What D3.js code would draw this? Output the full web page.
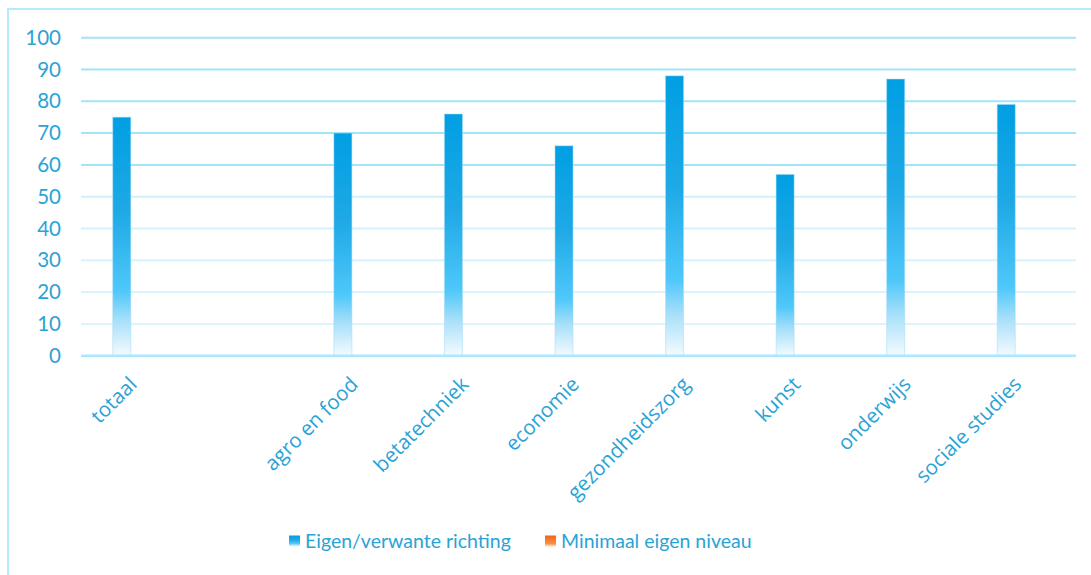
<!DOCTYPE html>
<html>
<head>
<meta charset="utf-8">
<script src="https://cdn.jsdelivr.net/npm/d3@7"></script>
<style>
  html, body { margin: 0; padding: 0; background: #fff; }
  svg { display: block; font-family: Lato, "Open Sans", sans-serif; }
</style>
</head>
<body>
<svg id="chart" width="1091" height="575"></svg>
<script>
const categories = ["totaal", "", "agro en food", "betatechniek", "economie", "gezondheidszorg", "kunst", "onderwijs", "sociale studies"];
const seriesNames = ["Eigen/verwante richting", "Minimaal eigen niveau"];
const eigenVerwant = [75, null, 70, 76, 66, 88, 57, 87, 79];
const minimaalNiveau = [null, null, null, null, null, null, null, null, null];
const yTicks = [0, 10, 20, 30, 40, 50, 60, 70, 80, 90, 100];

const W = 1091, H = 575;
const margin = {left: 81, right: 15, top: 37.7, bottom: 219.3};
const svg = d3.select("#chart");
const textColor = "#2aa3d6";

const defs = svg.append("defs");
const gBlue = defs.append("linearGradient").attr("id", "gBlue")
  .attr("x1", 0).attr("y1", 0).attr("x2", 0).attr("y2", 1);
gBlue.append("stop").attr("offset", "0%").attr("stop-color", "#009fe3");
gBlue.append("stop").attr("offset", "40%").attr("stop-color", "#1fa9e6");
gBlue.append("stop").attr("offset", "73%").attr("stop-color", "#4fc8fa");
gBlue.append("stop").attr("offset", "85%").attr("stop-color", "#a6dff9");
gBlue.append("stop").attr("offset", "100%").attr("stop-color", "#f4fbfe");
const gOrange = defs.append("linearGradient").attr("id", "gOrange")
  .attr("x1", 0).attr("y1", 0).attr("x2", 0).attr("y2", 1);
gOrange.append("stop").attr("offset", "0%").attr("stop-color", "#f2621b");
gOrange.append("stop").attr("offset", "73%").attr("stop-color", "#f9913f");
gOrange.append("stop").attr("offset", "100%").attr("stop-color", "#fde3cf");

// outer frame
svg.append("rect").attr("x", 8).attr("y", 9).attr("width", W).attr("height", H)
  .attr("fill", "none").attr("stroke", "#b5ecfc").attr("stroke-width", 2);

const x = d3.scaleBand().domain(d3.range(categories.length))
  .range([margin.left, W - margin.right]).paddingInner(0).paddingOuter(0);
const y = d3.scaleLinear().domain([0, 100]).range([H - margin.bottom, margin.top]);
const xSub = d3.scaleBand().domain([0, 1]).range([x.bandwidth() / 2 - 23.5, x.bandwidth() / 2 + 12.5]);
const barW = 18;

const gridColor = d3.scaleLinear().domain([10, 50, 60, 100]).range(["#dcf5fd", "#cff1fc", "#a2e5fb", "#a2e5fb"]);

// gridlines
svg.append("g").selectAll("line").data(yTicks.filter(d => d > 0)).join("line")
  .attr("x1", margin.left).attr("x2", W - margin.right)
  .attr("y1", d => y(d)).attr("y2", d => y(d))
  .attr("stroke", d => gridColor(d)).attr("stroke-width", 2);

// y axis labels
const yAxis = d3.axisLeft(y).tickValues(yTicks).tickSize(0).tickPadding(20);
const ya = svg.append("g").attr("transform", `translate(${margin.left},0)`).call(yAxis);
ya.select(".domain").remove();
ya.selectAll("text").attr("fill", textColor).style("font-size", "20.5px")
  .style("font-family", "Lato, sans-serif");

// bars
const series = [eigenVerwant, minimaalNiveau];
const fills = ["url(#gBlue)", "url(#gOrange)"];
series.forEach((vals, si) => {
  svg.append("g").selectAll("rect")
    .data(vals.map((v, i) => ({v, i})).filter(d => d.v != null))
    .join("rect")
    .attr("x", d => x(d.i) + xSub(si))
    .attr("width", barW)
    .attr("y", d => y(d.v))
    .attr("height", d => y(0) - y(d.v))
    .attr("fill", fills[si])
    .attr("stroke", si === 0 ? "#9fdcf6" : "#f8b88a")
    .attr("stroke-opacity", 0.5)
    .attr("stroke-width", 1);
});

// x axis line
svg.append("line").attr("x1", margin.left).attr("x2", W - margin.right)
  .attr("y1", y(0)).attr("y2", y(0)).attr("stroke", "#abe8fb").attr("stroke-width", 2.5);

// category labels
svg.append("g").selectAll("text").data(categories.map((c, i) => ({c, i})).filter(d => d.c))
  .join("text")
  .attr("transform", d => `translate(${x(d.i) + x.bandwidth() / 2 + 2},${y(0) + 30}) rotate(-45)`)
  .attr("text-anchor", "end")
  .attr("fill", textColor)
  .style("font-family", "'Open Sans', sans-serif")
  .style("font-size", "20.5px")
  .text(d => d.c);

// legend
const legend = svg.append("g");
const legendItems = [
  {name: seriesNames[0], fill: "url(#gBlue)", sx: 289},
  {name: seriesNames[1], fill: "url(#gOrange)", sx: 545}
];
legendItems.forEach(it => {
  legend.append("rect").attr("x", it.sx).attr("y", 535.5).attr("width", 11).attr("height", 11)
    .attr("fill", it.fill);
  legend.append("text").attr("x", it.sx + 16).attr("y", 547.5)
    .attr("fill", textColor).style("font-size", "19.5px").text(it.name);
});
</script>
</body>
</html>
